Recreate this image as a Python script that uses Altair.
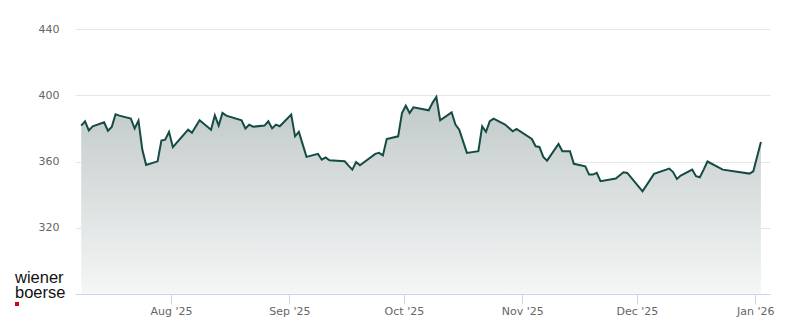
import altair as alt
import pandas as pd

dates = [
    "2025-07-08", "2025-07-09", "2025-07-10", "2025-07-11", "2025-07-14", "2025-07-15",
    "2025-07-16", "2025-07-17", "2025-07-18", "2025-07-21", "2025-07-22", "2025-07-23",
    "2025-07-24", "2025-07-25", "2025-07-28", "2025-07-29", "2025-07-30", "2025-07-31",
    "2025-08-01", "2025-08-05", "2025-08-06", "2025-08-08", "2025-08-11", "2025-08-12",
    "2025-08-13", "2025-08-14", "2025-08-15", "2025-08-19", "2025-08-20", "2025-08-21",
    "2025-08-22", "2025-08-25", "2025-08-26", "2025-08-27", "2025-08-28", "2025-08-29",
    "2025-09-01", "2025-09-02", "2025-09-03", "2025-09-05", "2025-09-08", "2025-09-09",
    "2025-09-10", "2025-09-11", "2025-09-15", "2025-09-16", "2025-09-17", "2025-09-18",
    "2025-09-19", "2025-09-23", "2025-09-24", "2025-09-25", "2025-09-26", "2025-09-29",
    "2025-09-30", "2025-10-01", "2025-10-02", "2025-10-03", "2025-10-07", "2025-10-08",
    "2025-10-09", "2025-10-10", "2025-10-13", "2025-10-14", "2025-10-15", "2025-10-17",
    "2025-10-20", "2025-10-21", "2025-10-22", "2025-10-23", "2025-10-24", "2025-10-27",
    "2025-10-29", "2025-10-30", "2025-11-03", "2025-11-04", "2025-11-05", "2025-11-06",
    "2025-11-07", "2025-11-10", "2025-11-11", "2025-11-13", "2025-11-14", "2025-11-17",
    "2025-11-18", "2025-11-19", "2025-11-20", "2025-11-21", "2025-11-25", "2025-11-27",
    "2025-11-28", "2025-12-02", "2025-12-05", "2025-12-09", "2025-12-10", "2025-12-11",
    "2025-12-12", "2025-12-15", "2025-12-16", "2025-12-17", "2025-12-18", "2025-12-19",
    "2025-12-23", "2025-12-30", "2025-12-31", "2026-01-02",
]
prices = [
    381.7, 384.3, 378.8, 381.2, 383.7, 378.6,
    380.9, 388.5, 387.7, 385.9, 379.9, 384.7,
    367.2, 357.9, 360.1, 372.6, 373.2, 377.9,
    368.6, 379.2, 377.4, 384.9, 379.2, 387.9,
    381.7, 389.3, 387.7, 384.9, 379.9, 382.2,
    381.0, 381.7, 384.3, 380.0, 382.3, 381.3,
    388.3, 375.2, 377.9, 362.8, 364.6, 361.1,
    362.5, 360.7, 360.1, 357.5, 355.1, 359.6,
    357.7, 364.6, 365.2, 363.7, 373.6, 375.2,
    389.3, 393.7, 389.3, 392.7, 390.9, 395.4,
    399.0, 384.9, 389.7, 382.3, 379.2, 365.2,
    366.2, 381.2, 377.9, 384.3, 385.9, 382.3,
    378.2, 379.7, 373.6, 369.2, 368.8, 362.8,
    360.5, 370.6, 366.2, 366.2, 358.6, 357.1,
    352.1, 352.1, 353.1, 348.1, 349.7, 353.5,
    353.1, 342.0, 352.5, 355.7, 353.6, 349.5,
    351.5, 355.1, 351.1, 350.5, 355.1, 360.0,
    355.1, 352.7, 354.1, 371.8,
]
y_ticks = [320, 360, 400, 440]
month_ticks = [(2025, 8), (2025, 9), (2025, 10), (2025, 11), (2025, 12), (2026, 1)]
logo_lines = ["wiener", "boerse"]

df = pd.DataFrame({"date": [d + "T12:00:00Z" for d in dates], "price": prices})

x_scale = alt.Scale(
    type="utc",
    domain=[
        alt.DateTime(year=2025, month=7, date=6, hours=21, utc=True),
        alt.DateTime(year=2026, month=1, date=4, hours=21, utc=True),
    ],
)
y_scale = alt.Scale(domain=[280, 440], nice=False, zero=False)

x_axis = alt.Axis(
    values=[alt.DateTime(year=y, month=m, date=1, utc=True) for y, m in month_ticks],
    format="%b '%y",
    title=None,
    grid=False,
    domainColor="#ccd6eb",
    tickColor="#ccd6eb",
    tickSize=10,
    labelPadding=1,
    labelColor="#666666",
    labelFont="DejaVu Sans",
    labelFontSize=11,
)
y_axis = alt.Axis(
    values=y_ticks,
    title=None,
    grid=True,
    gridColor="#e6e6e6",
    domain=False,
    ticks=False,
    labelPadding=16,
    labelColor="#666666",
    labelFont="DejaVu Sans",
    labelFontSize=11,
)

base = alt.Chart(df)

area = base.mark_area(
    color=alt.Gradient(
        gradient="linear",
        stops=[
            alt.GradientStop(color="#c0c9c8", offset=0),
            alt.GradientStop(color="#f5f6f6", offset=1),
        ],
        x1=1, x2=1, y1=0, y2=1,
    )
).encode(
    x=alt.X("date:T", scale=x_scale, axis=x_axis),
    y=alt.Y("price:Q", scale=y_scale, axis=y_axis),
    y2=alt.datum(280),
)

line = base.mark_line(color="#154b45", strokeWidth=2).encode(
    x=alt.X("date:T", scale=x_scale),
    y=alt.Y("price:Q", scale=y_scale),
)

logo = alt.Chart(pd.DataFrame({"t": ["\n".join(logo_lines)]})).mark_text(
    align="left",
    baseline="alphabetic",
    font="Liberation Sans",
    fontSize=16.5,
    lineBreak="\n",
    lineHeight=15,
    color="#111111",
).encode(x=alt.value(-60), y=alt.value(254), text="t:N")
logo_dot = alt.Chart(pd.DataFrame({"t": ["dot"]})).mark_rect(color="#d0021b").encode(
    x=alt.value(-60), x2=alt.value(-56), y=alt.value(273), y2=alt.value(277)
)

chart = alt.layer(area, line, logo, logo_dot).properties(
    width=695,
    height=265,
    autosize=alt.AutoSizeParams(type="none"),
    padding={"left": 75, "top": 29, "right": 30, "bottom": 30},
    background="white",
).configure_view(stroke=None)

chart.save("out.html", embed_options={"renderer": "svg", "actions": False})
